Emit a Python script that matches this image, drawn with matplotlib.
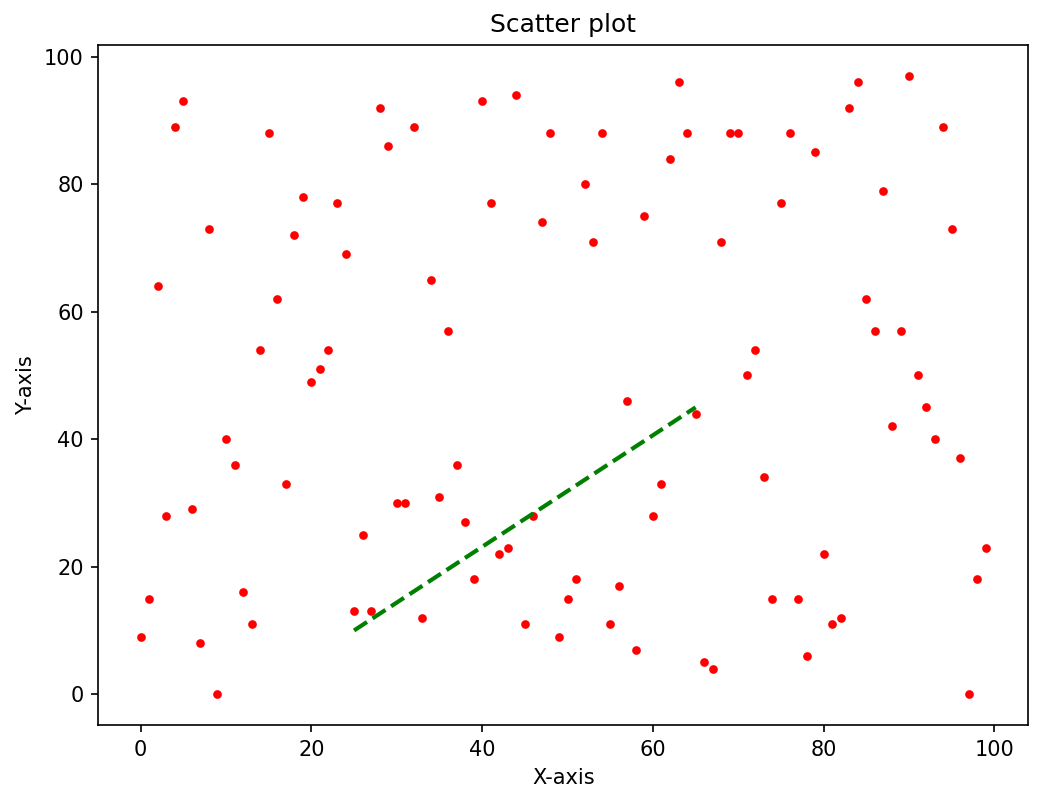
import matplotlib
matplotlib.use('Agg')
import matplotlib.pyplot as plt

# scatter data
x_vals = list(range(100))
y_vals = [9, 15, 64, 28, 89, 93, 29, 8, 73, 0,
          40, 36, 16, 11, 54, 88, 62, 33, 72, 78,
          49, 51, 54, 77, 69, 13, 25, 13, 92, 86,
          30, 30, 89, 12, 65, 31, 57, 36, 27, 18,
          93, 77, 22, 23, 94, 11, 28, 74, 88, 9,
          15, 18, 80, 71, 88, 11, 17, 46, 7, 75,
          28, 33, 84, 96, 88, 44, 5, 4, 71, 88,
          88, 50, 54, 34, 15, 77, 88, 15, 6, 85,
          22, 11, 12, 92, 96, 62, 57, 79, 42, 57,
          97, 50, 45, 40, 89, 73, 37, 0, 18, 23]

# dashed line endpoints
line_x = [25, 65]
line_y = [10, 45]

fig, ax = plt.subplots(figsize=(1046 / 150, 803 / 150), dpi=150)
fig.subplots_adjust(left=0.094, right=0.983, top=0.944, bottom=0.097)

ax.scatter(x_vals, y_vals, color='red', s=10)
ax.plot(line_x, line_y, color='green', linestyle='--', linewidth=2)

ax.set_title('Scatter plot')
ax.set_xlabel('X-axis')
ax.set_ylabel('Y-axis')

plt.savefig('out.png', dpi=150)
plt.close()
